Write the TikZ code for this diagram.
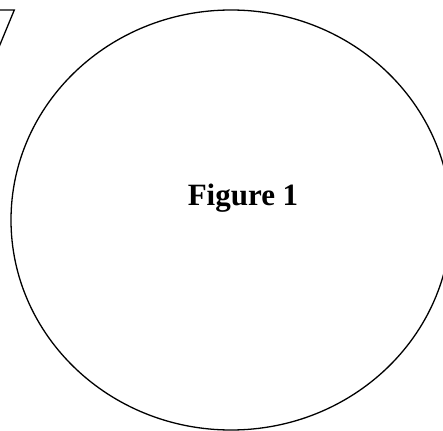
\documentclass[tikz,border=0pt]{standalone}
\usepackage{fontspec}
\setmainfont{Liberation Serif}
\usetikzlibrary{shapes.geometric}
\tikzset{
  outline/.style={draw=black, line width=1.3pt},
  bigring/.style={outline, ellipse, minimum width=440pt, minimum height=420pt, inner sep=0pt},
  title/.style={font=\bfseries\fontsize{31}{36}\selectfont, inner sep=0pt}
}
\begin{document}
\begin{tikzpicture}[x=1pt,y=-1pt]
\useasboundingbox (0,0) rectangle (443,430);
\clip (0,0) rectangle (443,430);
\node[bigring] (ring) at (231,220) {};
\node[title, anchor=base] (label) at (243,205) {Figure 1};
\coordinate (sevenA) at (-2,10);
\coordinate (sevenB) at (14.3,10);
\coordinate (sevenC) at (-1,47);
\draw[outline, line join=miter] (sevenA) -- (sevenB) -- (sevenC);
\end{tikzpicture}
\end{document}
